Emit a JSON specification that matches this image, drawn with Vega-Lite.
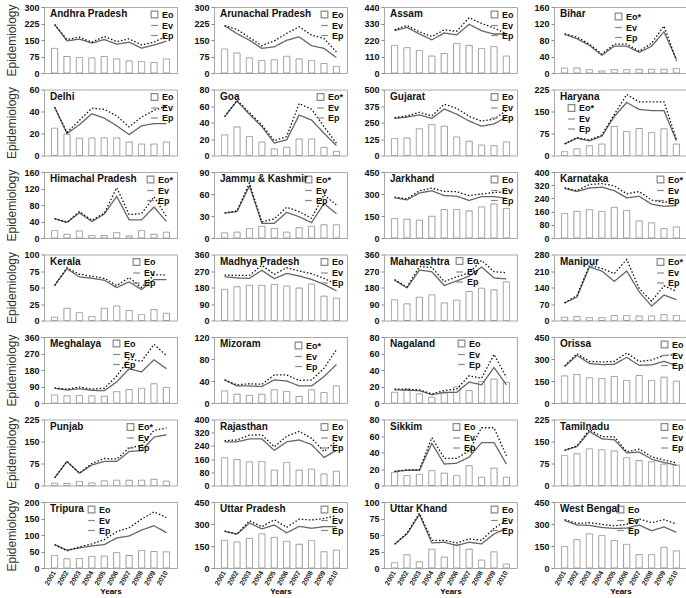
{"$schema":"https://vega.github.io/schema/vega-lite/v6.json",
"padding":{"left":4,"top":2,"right":2,"bottom":2},
"columns":4,"spacing":{"row":16.5,"column":37},"bounds":"flush",
"datasets":{
"Andhra Pradesh":[{"yr":2001,"Eo":112,"Ev":221,"Ep":220},{"yr":2002,"Eo":75,"Ev":146,"Ep":152},{"yr":2003,"Eo":70,"Ev":154,"Ep":163},{"yr":2004,"Eo":69,"Ev":136,"Ep":140},{"yr":2005,"Eo":75,"Ev":152,"Ep":166},{"yr":2006,"Eo":64,"Ev":131,"Ep":143},{"yr":2007,"Eo":55,"Ev":140,"Ep":155},{"yr":2008,"Eo":52,"Ev":113,"Ep":128},{"yr":2009,"Eo":48,"Ev":127,"Ep":140},{"yr":2010,"Eo":64,"Ev":145,"Ep":168}],
"Arunachal Pradesh":[{"yr":2001,"Eo":109,"Ev":215,"Ep":215},{"yr":2002,"Eo":91,"Ev":179,"Ep":198},{"yr":2003,"Eo":69,"Ev":149,"Ep":161},{"yr":2004,"Eo":57,"Ev":112,"Ep":124},{"yr":2005,"Eo":60,"Ev":119,"Ep":146},{"yr":2006,"Eo":76,"Ev":149,"Ep":180},{"yr":2007,"Eo":64,"Ev":164,"Ep":210},{"yr":2008,"Eo":57,"Ev":124,"Ep":172},{"yr":2009,"Eo":43,"Ev":112,"Ep":157},{"yr":2010,"Eo":30,"Ev":70,"Ep":95}],
"Assam":[{"yr":2001,"Eo":184,"Ev":282,"Ep":288},{"yr":2002,"Eo":169,"Ev":304,"Ep":317},{"yr":2003,"Eo":150,"Ev":260,"Ep":275},{"yr":2004,"Eo":113,"Ev":221,"Ep":243},{"yr":2005,"Eo":130,"Ev":267,"Ep":288},{"yr":2006,"Eo":197,"Ev":254,"Ep":278},{"yr":2007,"Eo":184,"Ev":325,"Ep":369},{"yr":2008,"Eo":163,"Ev":282,"Ep":330},{"yr":2009,"Eo":176,"Ev":260,"Ep":300},{"yr":2010,"Eo":113,"Ev":260,"Ep":262}],
"Bihar":[{"yr":2001,"Eo":12,"Ev":94,"Ep":95},{"yr":2002,"Eo":12,"Ev":83,"Ep":87},{"yr":2003,"Eo":8,"Ev":67,"Ep":70},{"yr":2004,"Eo":5,"Ev":43,"Ep":46},{"yr":2005,"Eo":8,"Ev":65,"Ep":70},{"yr":2006,"Eo":8,"Ev":65,"Ep":70},{"yr":2007,"Eo":9,"Ev":50,"Ep":53},{"yr":2008,"Eo":9,"Ev":65,"Ep":72},{"yr":2009,"Eo":9,"Ev":100,"Ep":114},{"yr":2010,"Eo":11,"Ev":33,"Ep":30}],
"Delhi":[{"yr":2001,"Eo":24.8,"Ev":44,"Ep":44},{"yr":2002,"Eo":19.4,"Ev":20,"Ep":21},{"yr":2003,"Eo":15.8,"Ev":28,"Ep":32},{"yr":2004,"Eo":16,"Ev":38,"Ep":43},{"yr":2005,"Eo":16,"Ev":34,"Ep":42},{"yr":2006,"Eo":16,"Ev":27,"Ep":36},{"yr":2007,"Eo":12.2,"Ev":19,"Ep":26},{"yr":2008,"Eo":10.4,"Ev":27,"Ep":35},{"yr":2009,"Eo":10.4,"Ev":29,"Ep":41},{"yr":2010,"Eo":12.2,"Ev":29,"Ep":45}],
"Goa":[{"yr":2001,"Eo":25,"Ev":47,"Ep":47},{"yr":2002,"Eo":34.6,"Ev":66,"Ep":67},{"yr":2003,"Eo":23,"Ev":50,"Ep":52},{"yr":2004,"Eo":16.3,"Ev":35,"Ep":37},{"yr":2005,"Eo":8,"Ev":15,"Ep":18},{"yr":2006,"Eo":10,"Ev":19,"Ep":23},{"yr":2007,"Eo":20,"Ev":49,"Ep":63},{"yr":2008,"Eo":20,"Ev":43,"Ep":56},{"yr":2009,"Eo":10,"Ev":27,"Ep":35},{"yr":2010,"Eo":5,"Ev":12,"Ep":15}],
"Gujarat":[{"yr":2001,"Eo":128,"Ev":281,"Ep":286},{"yr":2002,"Eo":133,"Ev":291,"Ep":300},{"yr":2003,"Eo":202,"Ev":308,"Ep":327},{"yr":2004,"Eo":234,"Ev":281,"Ep":300},{"yr":2005,"Eo":222,"Ev":352,"Ep":389},{"yr":2006,"Eo":140,"Ev":313,"Ep":357},{"yr":2007,"Eo":108,"Ev":261,"Ep":296},{"yr":2008,"Eo":79,"Ev":222,"Ep":261},{"yr":2009,"Eo":74,"Ev":239,"Ep":276},{"yr":2010,"Eo":103,"Ev":291,"Ep":340}],
"Haryana":[{"yr":2001,"Eo":13,"Ev":39,"Ep":40},{"yr":2002,"Eo":23,"Ev":59,"Ep":61},{"yr":2003,"Eo":33,"Ev":50,"Ep":53},{"yr":2004,"Eo":39,"Ev":66,"Ep":70},{"yr":2005,"Eo":99,"Ev":133,"Ep":140},{"yr":2006,"Eo":82,"Ev":181,"Ep":208},{"yr":2007,"Eo":92,"Ev":157,"Ep":183},{"yr":2008,"Eo":78,"Ev":153,"Ep":183},{"yr":2009,"Eo":91,"Ev":153,"Ep":183},{"yr":2010,"Eo":39,"Ev":50,"Ep":55}],
"Himachal Pradesh":[{"yr":2001,"Eo":18,"Ev":47,"Ep":47},{"yr":2002,"Eo":9,"Ev":38,"Ep":38},{"yr":2003,"Eo":17,"Ev":61,"Ep":64},{"yr":2004,"Eo":6,"Ev":40,"Ep":43},{"yr":2005,"Eo":6,"Ev":58,"Ep":60},{"yr":2006,"Eo":13,"Ev":101,"Ep":122},{"yr":2007,"Eo":5,"Ev":44,"Ep":57},{"yr":2008,"Eo":18,"Ev":44,"Ep":59},{"yr":2009,"Eo":9,"Ev":75,"Ep":100},{"yr":2010,"Eo":14,"Ev":40,"Ep":52}],
"Jammu & Kashmir":[{"yr":2001,"Eo":7,"Ev":34,"Ep":34},{"yr":2002,"Eo":8,"Ev":36,"Ep":37},{"yr":2003,"Eo":13,"Ev":71,"Ep":75},{"yr":2004,"Eo":16,"Ev":20,"Ep":22},{"yr":2005,"Eo":13,"Ev":20,"Ep":26},{"yr":2006,"Eo":8,"Ev":35,"Ep":42},{"yr":2007,"Eo":14,"Ev":29,"Ep":36},{"yr":2008,"Eo":16,"Ev":21,"Ep":27},{"yr":2009,"Eo":18,"Ev":47,"Ep":59},{"yr":2010,"Eo":18,"Ev":33,"Ep":45}],
"Jarkhand":[{"yr":2001,"Eo":132,"Ev":274,"Ep":278},{"yr":2002,"Eo":128,"Ev":260,"Ep":267},{"yr":2003,"Eo":121,"Ev":307,"Ep":322},{"yr":2004,"Eo":148,"Ev":322,"Ep":340},{"yr":2005,"Eo":194,"Ev":289,"Ep":318},{"yr":2006,"Eo":194,"Ev":285,"Ep":316},{"yr":2007,"Eo":185,"Ev":256,"Ep":289},{"yr":2008,"Eo":212,"Ev":282,"Ep":300},{"yr":2009,"Eo":232,"Ev":282,"Ep":310},{"yr":2010,"Eo":201,"Ev":271,"Ep":315}],
"Karnataka":[{"yr":2001,"Eo":148,"Ev":301,"Ep":305},{"yr":2002,"Eo":161,"Ev":282,"Ep":287},{"yr":2003,"Eo":172,"Ev":303,"Ep":324},{"yr":2004,"Eo":161,"Ev":308,"Ep":330},{"yr":2005,"Eo":186,"Ev":287,"Ep":316},{"yr":2006,"Eo":167,"Ev":243,"Ep":268},{"yr":2007,"Eo":103,"Ev":253,"Ep":282},{"yr":2008,"Eo":92,"Ev":205,"Ep":230},{"yr":2009,"Eo":57,"Ev":192,"Ep":216},{"yr":2010,"Eo":67,"Ev":197,"Ep":230}],
"Kerala":[{"yr":2001,"Eo":5,"Ev":53,"Ep":53},{"yr":2002,"Eo":18.5,"Ev":78.5,"Ep":80},{"yr":2003,"Eo":12,"Ev":66,"Ep":70},{"yr":2004,"Eo":6,"Ev":64,"Ep":67},{"yr":2005,"Eo":18.5,"Ev":61,"Ep":64},{"yr":2006,"Eo":22,"Ev":50,"Ep":53},{"yr":2007,"Eo":15,"Ev":58.5,"Ep":65},{"yr":2008,"Eo":9,"Ev":47,"Ep":50},{"yr":2009,"Eo":16.5,"Ev":62,"Ep":69},{"yr":2010,"Eo":11,"Ev":62,"Ep":69}],
"Madhya Pradesh":[{"yr":2001,"Eo":170,"Ev":239,"Ep":248},{"yr":2002,"Eo":184,"Ev":232,"Ep":246},{"yr":2003,"Eo":192,"Ev":230,"Ep":246},{"yr":2004,"Eo":192,"Ev":274,"Ep":301},{"yr":2005,"Eo":197,"Ev":228,"Ep":252},{"yr":2006,"Eo":188,"Ev":257,"Ep":288},{"yr":2007,"Eo":177,"Ev":243,"Ep":270},{"yr":2008,"Eo":199,"Ev":224,"Ep":255},{"yr":2009,"Eo":133,"Ev":197,"Ep":230},{"yr":2010,"Eo":122,"Ev":162,"Ep":197}],
"Maharashtra":[{"yr":2001,"Eo":113,"Ev":220,"Ep":223},{"yr":2002,"Eo":91,"Ev":178,"Ep":183},{"yr":2003,"Eo":127,"Ev":275,"Ep":294},{"yr":2004,"Eo":140,"Ev":266,"Ep":290},{"yr":2005,"Eo":96,"Ev":191,"Ep":212},{"yr":2006,"Eo":111,"Ev":216,"Ep":238},{"yr":2007,"Eo":158,"Ev":242,"Ep":260},{"yr":2008,"Eo":176,"Ev":292,"Ep":328},{"yr":2009,"Eo":167,"Ev":232,"Ep":266},{"yr":2010,"Eo":211,"Ev":227,"Ep":261}],
"Manipur":[{"yr":2001,"Eo":14,"Ev":74,"Ep":75},{"yr":2002,"Eo":17,"Ev":100,"Ep":106},{"yr":2003,"Eo":12,"Ev":227,"Ep":234},{"yr":2004,"Eo":12,"Ev":210,"Ep":221},{"yr":2005,"Eo":21,"Ev":166,"Ep":199},{"yr":2006,"Eo":21,"Ev":210,"Ep":259},{"yr":2007,"Eo":19,"Ev":122,"Ep":136},{"yr":2008,"Eo":19,"Ev":61,"Ep":82},{"yr":2009,"Eo":25,"Ev":108,"Ep":147},{"yr":2010,"Eo":21,"Ev":88,"Ep":124}],
"Meghalaya":[{"yr":2001,"Eo":44,"Ev":80,"Ep":82},{"yr":2002,"Eo":39,"Ev":71,"Ep":76},{"yr":2003,"Eo":41,"Ev":78,"Ep":87},{"yr":2004,"Eo":39,"Ev":69,"Ep":76},{"yr":2005,"Eo":37,"Ev":67,"Ep":80},{"yr":2006,"Eo":62,"Ev":115,"Ep":147},{"yr":2007,"Eo":73,"Ev":187,"Ep":240},{"yr":2008,"Eo":80,"Ev":170,"Ep":227},{"yr":2009,"Eo":105,"Ev":236,"Ep":320},{"yr":2010,"Eo":85,"Ev":187,"Ep":259}],
"Mizoram":[{"yr":2001,"Eo":22,"Ev":42,"Ep":42},{"yr":2002,"Eo":16,"Ev":31,"Ep":33},{"yr":2003,"Eo":14,"Ev":31,"Ep":35},{"yr":2004,"Eo":16,"Ev":30,"Ep":34},{"yr":2005,"Eo":24,"Ev":42,"Ep":51},{"yr":2006,"Eo":21,"Ev":40,"Ep":51},{"yr":2007,"Eo":12,"Ev":31,"Ep":41},{"yr":2008,"Eo":24,"Ev":31,"Ep":42},{"yr":2009,"Eo":19,"Ev":48,"Ep":63},{"yr":2010,"Eo":31,"Ev":70,"Ep":97}],
"Nagaland":[{"yr":2001,"Eo":13,"Ev":16,"Ep":17},{"yr":2002,"Eo":17,"Ev":15.5,"Ep":16.5},{"yr":2003,"Eo":11,"Ev":15,"Ep":16},{"yr":2004,"Eo":7,"Ev":10,"Ep":11},{"yr":2005,"Eo":12,"Ev":13,"Ep":15},{"yr":2006,"Eo":19.5,"Ev":13,"Ep":17},{"yr":2007,"Eo":15,"Ev":25.5,"Ep":33},{"yr":2008,"Eo":26,"Ev":22,"Ep":30},{"yr":2009,"Eo":29,"Ev":43,"Ep":59},{"yr":2010,"Eo":25,"Ev":22,"Ep":31}],
"Orissa":[{"yr":2001,"Eo":185,"Ev":248,"Ep":253},{"yr":2002,"Eo":194,"Ev":325,"Ep":336},{"yr":2003,"Eo":172,"Ev":269,"Ep":284},{"yr":2004,"Eo":167,"Ev":262,"Ep":280},{"yr":2005,"Eo":181,"Ev":264,"Ep":284},{"yr":2006,"Eo":154,"Ev":311,"Ep":341},{"yr":2007,"Eo":187,"Ev":257,"Ep":284},{"yr":2008,"Eo":154,"Ev":260,"Ep":293},{"yr":2009,"Eo":176,"Ev":284,"Ep":325},{"yr":2010,"Eo":149,"Ev":255,"Ep":329}],
"Punjab":[{"yr":2001,"Eo":8,"Ev":26,"Ep":26},{"yr":2002,"Eo":7,"Ev":82,"Ep":82},{"yr":2003,"Eo":14,"Ev":42,"Ep":42},{"yr":2004,"Eo":9,"Ev":70,"Ep":75},{"yr":2005,"Eo":16,"Ev":82,"Ep":92},{"yr":2006,"Eo":18,"Ev":82,"Ep":90},{"yr":2007,"Eo":18,"Ev":116,"Ep":128},{"yr":2008,"Eo":18,"Ev":119,"Ep":137},{"yr":2009,"Eo":21,"Ev":165,"Ep":188},{"yr":2010,"Eo":15,"Ev":173,"Ep":196}],
"Rajasthan":[{"yr":2001,"Eo":168,"Ev":265,"Ep":272},{"yr":2002,"Eo":158,"Ev":265,"Ep":276},{"yr":2003,"Eo":143,"Ev":282,"Ep":305},{"yr":2004,"Eo":145,"Ev":282,"Ep":307},{"yr":2005,"Eo":93,"Ev":213,"Ep":234},{"yr":2006,"Eo":139,"Ev":265,"Ep":299},{"yr":2007,"Eo":93,"Ev":276,"Ep":328},{"yr":2008,"Eo":99,"Ev":248,"Ep":286},{"yr":2009,"Eo":70,"Ev":170,"Ep":206},{"yr":2010,"Eo":86,"Ev":213,"Ep":270}],
"Sikkim":[{"yr":2001,"Eo":16,"Ev":17,"Ep":17},{"yr":2002,"Eo":12,"Ev":18.5,"Ep":19},{"yr":2003,"Eo":13.5,"Ev":18.5,"Ep":19},{"yr":2004,"Eo":18,"Ev":51,"Ep":58},{"yr":2005,"Eo":15,"Ev":26,"Ep":33},{"yr":2006,"Eo":12,"Ev":27,"Ep":33},{"yr":2007,"Eo":24,"Ev":34.5,"Ep":42},{"yr":2008,"Eo":10,"Ev":52,"Ep":70},{"yr":2009,"Eo":21,"Ev":52,"Ep":70},{"yr":2010,"Eo":10,"Ev":26,"Ep":36}],
"Tamilnadu":[{"yr":2001,"Eo":102,"Ev":120,"Ep":120},{"yr":2002,"Eo":108,"Ev":133,"Ep":135},{"yr":2003,"Eo":125,"Ev":184,"Ep":190},{"yr":2004,"Eo":122,"Ev":159,"Ep":167},{"yr":2005,"Eo":118,"Ev":156,"Ep":166},{"yr":2006,"Eo":95,"Ev":111,"Ep":115},{"yr":2007,"Eo":85,"Ev":114,"Ep":124},{"yr":2008,"Eo":81,"Ev":90,"Ep":98},{"yr":2009,"Eo":73,"Ev":79,"Ep":87},{"yr":2010,"Eo":70,"Ev":69,"Ep":77}],
"Tripura":[{"yr":2001,"Eo":38,"Ev":71,"Ep":71},{"yr":2002,"Eo":28,"Ev":54,"Ep":52},{"yr":2003,"Eo":29,"Ev":61,"Ep":64},{"yr":2004,"Eo":35,"Ev":67,"Ep":73},{"yr":2005,"Eo":36,"Ev":71,"Ep":86},{"yr":2006,"Eo":47,"Ev":91,"Ep":110},{"yr":2007,"Eo":38,"Ev":97,"Ep":122},{"yr":2008,"Eo":53,"Ev":115,"Ep":148},{"yr":2009,"Eo":50,"Ev":128,"Ep":170},{"yr":2010,"Eo":49,"Ev":107,"Ep":153}],
"Uttar Pradesh":[{"yr":2001,"Eo":189,"Ev":249,"Ep":253},{"yr":2002,"Eo":178,"Ev":231,"Ep":231},{"yr":2003,"Eo":202,"Ev":307,"Ep":322},{"yr":2004,"Eo":233,"Ev":267,"Ep":282},{"yr":2005,"Eo":209,"Ev":293,"Ep":329},{"yr":2006,"Eo":182,"Ev":240,"Ep":278},{"yr":2007,"Eo":162,"Ev":284,"Ep":333},{"yr":2008,"Eo":187,"Ev":271,"Ep":327},{"yr":2009,"Eo":111,"Ev":282,"Ep":338},{"yr":2010,"Eo":122,"Ev":282,"Ep":356}],
"Uttar Khand":[{"yr":2001,"Eo":8,"Ev":36,"Ep":36},{"yr":2002,"Eo":20,"Ev":51.5,"Ep":53},{"yr":2003,"Eo":9.5,"Ev":81,"Ep":83},{"yr":2004,"Eo":28.5,"Ev":38,"Ep":42},{"yr":2005,"Eo":16.5,"Ev":39,"Ep":42},{"yr":2006,"Eo":35.5,"Ev":34,"Ep":38},{"yr":2007,"Eo":28.5,"Ev":39,"Ep":44},{"yr":2008,"Eo":12,"Ev":36.5,"Ep":42},{"yr":2009,"Eo":24.5,"Ev":51.5,"Ep":60},{"yr":2010,"Eo":6,"Ev":60,"Ep":72}],
"West Bengal":[{"yr":2001,"Eo":146,"Ev":324,"Ep":330},{"yr":2002,"Eo":193,"Ev":293,"Ep":304},{"yr":2003,"Eo":233,"Ev":291,"Ep":309},{"yr":2004,"Eo":222,"Ev":276,"Ep":298},{"yr":2005,"Eo":187,"Ev":270,"Ep":287},{"yr":2006,"Eo":161,"Ev":272,"Ep":298},{"yr":2007,"Eo":91,"Ev":293,"Ep":335},{"yr":2008,"Eo":91,"Ev":254,"Ep":309},{"yr":2009,"Eo":141,"Ev":280,"Ep":330},{"yr":2010,"Eo":117,"Ev":243,"Ep":300}]
},
"concat":[
{"data":{"name":"Andhra Pradesh"},"title":"Andhra Pradesh","transform":[{"fold":["Eo","Ev","Ep"],"as":["k","v"]}],"encoding":{"x":{"field":"yr","type":"ordinal","axis":null},"y":{"field":"v","type":"quantitative","scale":{"domain":[0,300],"nice":false},"axis":{"values":[0,75,150,225,300],"title":"Epidemiology"}},"stroke":{"field":"k","type":"nominal","scale":{"domain":["Eo","Ev","Ep"],"range":["#999999","#666666","#111111"]},"legend":null},"strokeDash":{"field":"k","type":"nominal","scale":{"domain":["Eo","Ev","Ep"],"range":[[1,0],[1,0],[1.5,2]]},"legend":null}},"layer":[{"transform":[{"filter":"datum.k=='Eo'"}],"mark":"bar"},{"transform":[{"filter":"datum.k!='Eo'"}],"mark":"line"},{"transform":[{"filter":"datum.k=='none'"}],"mark":{"type":"point","opacity":1},"encoding":{"shape":{"field":"k","type":"nominal","scale":{"domain":["Eo","Ev","Ep"],"range":["square","stroke","stroke"]},"legend":{"title":null,"encode":{"symbols":{"update":{"stroke":{"signal":"datum.value=='Eo'?'#999999':datum.value=='Ev'?'#666666':'#111111'"},"strokeDash":{"signal":"datum.value=='Ep'?[1.5,2]:[1,0]"},"fill":{"value":"#ffffff"},"opacity":{"value":1}}}}}}}}]},
{"data":{"name":"Arunachal Pradesh"},"title":"Arunachal Pradesh","transform":[{"fold":["Eo","Ev","Ep"],"as":["k","v"]}],"encoding":{"x":{"field":"yr","type":"ordinal","axis":null},"y":{"field":"v","type":"quantitative","scale":{"domain":[0,300],"nice":false},"axis":{"values":[0,75,150,225,300],"title":null}},"stroke":{"field":"k","type":"nominal","scale":{"domain":["Eo","Ev","Ep"],"range":["#999999","#666666","#111111"]},"legend":null},"strokeDash":{"field":"k","type":"nominal","scale":{"domain":["Eo","Ev","Ep"],"range":[[1,0],[1,0],[1.5,2]]},"legend":null}},"layer":[{"transform":[{"filter":"datum.k=='Eo'"}],"mark":"bar"},{"transform":[{"filter":"datum.k!='Eo'"}],"mark":"line"},{"transform":[{"filter":"datum.k=='none'"}],"mark":{"type":"point","opacity":1},"encoding":{"shape":{"field":"k","type":"nominal","scale":{"domain":["Eo","Ev","Ep"],"range":["square","stroke","stroke"]},"legend":{"title":null,"encode":{"symbols":{"update":{"stroke":{"signal":"datum.value=='Eo'?'#999999':datum.value=='Ev'?'#666666':'#111111'"},"strokeDash":{"signal":"datum.value=='Ep'?[1.5,2]:[1,0]"},"fill":{"value":"#ffffff"},"opacity":{"value":1}}}}}}}}]},
{"data":{"name":"Assam"},"title":"Assam","transform":[{"fold":["Eo","Ev","Ep"],"as":["k","v"]}],"encoding":{"x":{"field":"yr","type":"ordinal","axis":null},"y":{"field":"v","type":"quantitative","scale":{"domain":[0,440],"nice":false},"axis":{"values":[0,110,220,330,440],"title":null}},"stroke":{"field":"k","type":"nominal","scale":{"domain":["Eo","Ev","Ep"],"range":["#999999","#666666","#111111"]},"legend":null},"strokeDash":{"field":"k","type":"nominal","scale":{"domain":["Eo","Ev","Ep"],"range":[[1,0],[1,0],[1.5,2]]},"legend":null}},"layer":[{"transform":[{"filter":"datum.k=='Eo'"}],"mark":"bar"},{"transform":[{"filter":"datum.k!='Eo'"}],"mark":"line"},{"transform":[{"filter":"datum.k=='none'"}],"mark":{"type":"point","opacity":1},"encoding":{"shape":{"field":"k","type":"nominal","scale":{"domain":["Eo","Ev","Ep"],"range":["square","stroke","stroke"]},"legend":{"title":null,"encode":{"symbols":{"update":{"stroke":{"signal":"datum.value=='Eo'?'#999999':datum.value=='Ev'?'#666666':'#111111'"},"strokeDash":{"signal":"datum.value=='Ep'?[1.5,2]:[1,0]"},"fill":{"value":"#ffffff"},"opacity":{"value":1}}}}}}}}]},
{"data":{"name":"Bihar"},"title":"Bihar","transform":[{"fold":["Eo","Ev","Ep"],"as":["k","v"]}],"encoding":{"x":{"field":"yr","type":"ordinal","axis":null},"y":{"field":"v","type":"quantitative","scale":{"domain":[0,160],"nice":false},"axis":{"values":[0,40,80,120,160],"title":null}},"stroke":{"field":"k","type":"nominal","scale":{"domain":["Eo","Ev","Ep"],"range":["#999999","#666666","#111111"]},"legend":null},"strokeDash":{"field":"k","type":"nominal","scale":{"domain":["Eo","Ev","Ep"],"range":[[1,0],[1,0],[1.5,2]]},"legend":null}},"layer":[{"transform":[{"filter":"datum.k=='Eo'"}],"mark":"bar"},{"transform":[{"filter":"datum.k!='Eo'"}],"mark":"line"},{"transform":[{"filter":"datum.k=='none'"}],"mark":{"type":"point","opacity":1},"encoding":{"shape":{"field":"k","type":"nominal","scale":{"domain":["Eo","Ev","Ep"],"range":["square","stroke","stroke"]},"legend":{"title":null,"orient":"none","legendX":60,"legendY":5,"labelExpr":"datum.label=='Eo'?'Eo*':datum.label","encode":{"symbols":{"update":{"stroke":{"signal":"datum.value=='Eo'?'#999999':datum.value=='Ev'?'#666666':'#111111'"},"strokeDash":{"signal":"datum.value=='Ep'?[1.5,2]:[1,0]"},"fill":{"value":"#ffffff"},"opacity":{"value":1}}}}}}}}]},
{"data":{"name":"Delhi"},"title":"Delhi","transform":[{"fold":["Eo","Ev","Ep"],"as":["k","v"]}],"encoding":{"x":{"field":"yr","type":"ordinal","axis":null},"y":{"field":"v","type":"quantitative","scale":{"domain":[0,60],"nice":false},"axis":{"values":[0,20,40,60],"title":"Epidemiology"}},"stroke":{"field":"k","type":"nominal","scale":{"domain":["Eo","Ev","Ep"],"range":["#999999","#666666","#111111"]},"legend":null},"strokeDash":{"field":"k","type":"nominal","scale":{"domain":["Eo","Ev","Ep"],"range":[[1,0],[1,0],[1.5,2]]},"legend":null}},"layer":[{"transform":[{"filter":"datum.k=='Eo'"}],"mark":"bar"},{"transform":[{"filter":"datum.k!='Eo'"}],"mark":"line"},{"transform":[{"filter":"datum.k=='none'"}],"mark":{"type":"point","opacity":1},"encoding":{"shape":{"field":"k","type":"nominal","scale":{"domain":["Eo","Ev","Ep"],"range":["square","stroke","stroke"]},"legend":{"title":null,"encode":{"symbols":{"update":{"stroke":{"signal":"datum.value=='Eo'?'#999999':datum.value=='Ev'?'#666666':'#111111'"},"strokeDash":{"signal":"datum.value=='Ep'?[1.5,2]:[1,0]"},"fill":{"value":"#ffffff"},"opacity":{"value":1}}}}}}}}]},
{"data":{"name":"Goa"},"title":"Goa","transform":[{"fold":["Eo","Ev","Ep"],"as":["k","v"]}],"encoding":{"x":{"field":"yr","type":"ordinal","axis":null},"y":{"field":"v","type":"quantitative","scale":{"domain":[0,80],"nice":false},"axis":{"values":[0,20,40,60,80],"title":null}},"stroke":{"field":"k","type":"nominal","scale":{"domain":["Eo","Ev","Ep"],"range":["#999999","#666666","#111111"]},"legend":null},"strokeDash":{"field":"k","type":"nominal","scale":{"domain":["Eo","Ev","Ep"],"range":[[1,0],[1,0],[1.5,2]]},"legend":null}},"layer":[{"transform":[{"filter":"datum.k=='Eo'"}],"mark":"bar"},{"transform":[{"filter":"datum.k!='Eo'"}],"mark":"line"},{"transform":[{"filter":"datum.k=='none'"}],"mark":{"type":"point","opacity":1},"encoding":{"shape":{"field":"k","type":"nominal","scale":{"domain":["Eo","Ev","Ep"],"range":["square","stroke","stroke"]},"legend":{"title":null,"labelExpr":"datum.label=='Eo'?'Eo*':datum.label","encode":{"symbols":{"update":{"stroke":{"signal":"datum.value=='Eo'?'#999999':datum.value=='Ev'?'#666666':'#111111'"},"strokeDash":{"signal":"datum.value=='Ep'?[1.5,2]:[1,0]"},"fill":{"value":"#ffffff"},"opacity":{"value":1}}}}}}}}]},
{"data":{"name":"Gujarat"},"title":"Gujarat","transform":[{"fold":["Eo","Ev","Ep"],"as":["k","v"]}],"encoding":{"x":{"field":"yr","type":"ordinal","axis":null},"y":{"field":"v","type":"quantitative","scale":{"domain":[0,500],"nice":false},"axis":{"values":[0,125,250,375,500],"title":null}},"stroke":{"field":"k","type":"nominal","scale":{"domain":["Eo","Ev","Ep"],"range":["#999999","#666666","#111111"]},"legend":null},"strokeDash":{"field":"k","type":"nominal","scale":{"domain":["Eo","Ev","Ep"],"range":[[1,0],[1,0],[1.5,2]]},"legend":null}},"layer":[{"transform":[{"filter":"datum.k=='Eo'"}],"mark":"bar"},{"transform":[{"filter":"datum.k!='Eo'"}],"mark":"line"},{"transform":[{"filter":"datum.k=='none'"}],"mark":{"type":"point","opacity":1},"encoding":{"shape":{"field":"k","type":"nominal","scale":{"domain":["Eo","Ev","Ep"],"range":["square","stroke","stroke"]},"legend":{"title":null,"encode":{"symbols":{"update":{"stroke":{"signal":"datum.value=='Eo'?'#999999':datum.value=='Ev'?'#666666':'#111111'"},"strokeDash":{"signal":"datum.value=='Ep'?[1.5,2]:[1,0]"},"fill":{"value":"#ffffff"},"opacity":{"value":1}}}}}}}}]},
{"data":{"name":"Haryana"},"title":"Haryana","transform":[{"fold":["Eo","Ev","Ep"],"as":["k","v"]}],"encoding":{"x":{"field":"yr","type":"ordinal","axis":null},"y":{"field":"v","type":"quantitative","scale":{"domain":[0,225],"nice":false},"axis":{"values":[0,75,150,225],"title":null}},"stroke":{"field":"k","type":"nominal","scale":{"domain":["Eo","Ev","Ep"],"range":["#999999","#666666","#111111"]},"legend":null},"strokeDash":{"field":"k","type":"nominal","scale":{"domain":["Eo","Ev","Ep"],"range":[[1,0],[1,0],[1.5,2]]},"legend":null}},"layer":[{"transform":[{"filter":"datum.k=='Eo'"}],"mark":"bar"},{"transform":[{"filter":"datum.k!='Eo'"}],"mark":"line"},{"transform":[{"filter":"datum.k=='none'"}],"mark":{"type":"point","opacity":1},"encoding":{"shape":{"field":"k","type":"nominal","scale":{"domain":["Eo","Ev","Ep"],"range":["square","stroke","stroke"]},"legend":{"title":null,"orient":"none","legendX":13,"legendY":14,"labelExpr":"datum.label=='Eo'?'Eo*':datum.label","encode":{"symbols":{"update":{"stroke":{"signal":"datum.value=='Eo'?'#999999':datum.value=='Ev'?'#666666':'#111111'"},"strokeDash":{"signal":"datum.value=='Ep'?[1.5,2]:[1,0]"},"fill":{"value":"#ffffff"},"opacity":{"value":1}}}}}}}}]},
{"data":{"name":"Himachal Pradesh"},"title":"Himachal Pradesh","transform":[{"fold":["Eo","Ev","Ep"],"as":["k","v"]}],"encoding":{"x":{"field":"yr","type":"ordinal","axis":null},"y":{"field":"v","type":"quantitative","scale":{"domain":[0,160],"nice":false},"axis":{"values":[0,40,80,120,160],"title":"Epidemiology"}},"stroke":{"field":"k","type":"nominal","scale":{"domain":["Eo","Ev","Ep"],"range":["#999999","#666666","#111111"]},"legend":null},"strokeDash":{"field":"k","type":"nominal","scale":{"domain":["Eo","Ev","Ep"],"range":[[1,0],[1,0],[1.5,2]]},"legend":null}},"layer":[{"transform":[{"filter":"datum.k=='Eo'"}],"mark":"bar"},{"transform":[{"filter":"datum.k!='Eo'"}],"mark":"line"},{"transform":[{"filter":"datum.k=='none'"}],"mark":{"type":"point","opacity":1},"encoding":{"shape":{"field":"k","type":"nominal","scale":{"domain":["Eo","Ev","Ep"],"range":["square","stroke","stroke"]},"legend":{"title":null,"labelExpr":"datum.label=='Eo'?'Eo*':datum.label","encode":{"symbols":{"update":{"stroke":{"signal":"datum.value=='Eo'?'#999999':datum.value=='Ev'?'#666666':'#111111'"},"strokeDash":{"signal":"datum.value=='Ep'?[1.5,2]:[1,0]"},"fill":{"value":"#ffffff"},"opacity":{"value":1}}}}}}}}]},
{"data":{"name":"Jammu & Kashmir"},"title":"Jammu & Kashmir","transform":[{"fold":["Eo","Ev","Ep"],"as":["k","v"]}],"encoding":{"x":{"field":"yr","type":"ordinal","axis":null},"y":{"field":"v","type":"quantitative","scale":{"domain":[0,90],"nice":false},"axis":{"values":[0,30,60,90],"title":null}},"stroke":{"field":"k","type":"nominal","scale":{"domain":["Eo","Ev","Ep"],"range":["#999999","#666666","#111111"]},"legend":null},"strokeDash":{"field":"k","type":"nominal","scale":{"domain":["Eo","Ev","Ep"],"range":[[1,0],[1,0],[1.5,2]]},"legend":null}},"layer":[{"transform":[{"filter":"datum.k=='Eo'"}],"mark":"bar"},{"transform":[{"filter":"datum.k!='Eo'"}],"mark":"line"},{"transform":[{"filter":"datum.k=='none'"}],"mark":{"type":"point","opacity":1},"encoding":{"shape":{"field":"k","type":"nominal","scale":{"domain":["Eo","Ev","Ep"],"range":["square","stroke","stroke"]},"legend":{"title":null,"orient":"none","legendX":90,"legendY":3,"labelExpr":"datum.label=='Eo'?'Eo*':datum.label","encode":{"symbols":{"update":{"stroke":{"signal":"datum.value=='Eo'?'#999999':datum.value=='Ev'?'#666666':'#111111'"},"strokeDash":{"signal":"datum.value=='Ep'?[1.5,2]:[1,0]"},"fill":{"value":"#ffffff"},"opacity":{"value":1}}}}}}}}]},
{"data":{"name":"Jarkhand"},"title":"Jarkhand","transform":[{"fold":["Eo","Ev","Ep"],"as":["k","v"]}],"encoding":{"x":{"field":"yr","type":"ordinal","axis":null},"y":{"field":"v","type":"quantitative","scale":{"domain":[0,450],"nice":false},"axis":{"values":[0,150,300,450],"title":null}},"stroke":{"field":"k","type":"nominal","scale":{"domain":["Eo","Ev","Ep"],"range":["#999999","#666666","#111111"]},"legend":null},"strokeDash":{"field":"k","type":"nominal","scale":{"domain":["Eo","Ev","Ep"],"range":[[1,0],[1,0],[1.5,2]]},"legend":null}},"layer":[{"transform":[{"filter":"datum.k=='Eo'"}],"mark":"bar"},{"transform":[{"filter":"datum.k!='Eo'"}],"mark":"line"},{"transform":[{"filter":"datum.k=='none'"}],"mark":{"type":"point","opacity":1},"encoding":{"shape":{"field":"k","type":"nominal","scale":{"domain":["Eo","Ev","Ep"],"range":["square","stroke","stroke"]},"legend":{"title":null,"encode":{"symbols":{"update":{"stroke":{"signal":"datum.value=='Eo'?'#999999':datum.value=='Ev'?'#666666':'#111111'"},"strokeDash":{"signal":"datum.value=='Ep'?[1.5,2]:[1,0]"},"fill":{"value":"#ffffff"},"opacity":{"value":1}}}}}}}}]},
{"data":{"name":"Karnataka"},"title":"Karnataka","transform":[{"fold":["Eo","Ev","Ep"],"as":["k","v"]}],"encoding":{"x":{"field":"yr","type":"ordinal","axis":null},"y":{"field":"v","type":"quantitative","scale":{"domain":[0,400],"nice":false},"axis":{"values":[0,80,160,240,320,400],"title":null}},"stroke":{"field":"k","type":"nominal","scale":{"domain":["Eo","Ev","Ep"],"range":["#999999","#666666","#111111"]},"legend":null},"strokeDash":{"field":"k","type":"nominal","scale":{"domain":["Eo","Ev","Ep"],"range":[[1,0],[1,0],[1.5,2]]},"legend":null}},"layer":[{"transform":[{"filter":"datum.k=='Eo'"}],"mark":"bar"},{"transform":[{"filter":"datum.k!='Eo'"}],"mark":"line"},{"transform":[{"filter":"datum.k=='none'"}],"mark":{"type":"point","opacity":1},"encoding":{"shape":{"field":"k","type":"nominal","scale":{"domain":["Eo","Ev","Ep"],"range":["square","stroke","stroke"]},"legend":{"title":null,"labelExpr":"datum.label=='Eo'?'Eo*':datum.label","encode":{"symbols":{"update":{"stroke":{"signal":"datum.value=='Eo'?'#999999':datum.value=='Ev'?'#666666':'#111111'"},"strokeDash":{"signal":"datum.value=='Ep'?[1.5,2]:[1,0]"},"fill":{"value":"#ffffff"},"opacity":{"value":1}}}}}}}}]},
{"data":{"name":"Kerala"},"title":"Kerala","transform":[{"fold":["Eo","Ev","Ep"],"as":["k","v"]}],"encoding":{"x":{"field":"yr","type":"ordinal","axis":null},"y":{"field":"v","type":"quantitative","scale":{"domain":[0,100],"nice":false},"axis":{"values":[0,25,50,75,100],"title":"Epidemiology"}},"stroke":{"field":"k","type":"nominal","scale":{"domain":["Eo","Ev","Ep"],"range":["#999999","#666666","#111111"]},"legend":null},"strokeDash":{"field":"k","type":"nominal","scale":{"domain":["Eo","Ev","Ep"],"range":[[1,0],[1,0],[1.5,2]]},"legend":null}},"layer":[{"transform":[{"filter":"datum.k=='Eo'"}],"mark":"bar"},{"transform":[{"filter":"datum.k!='Eo'"}],"mark":"line"},{"transform":[{"filter":"datum.k=='none'"}],"mark":{"type":"point","opacity":1},"encoding":{"shape":{"field":"k","type":"nominal","scale":{"domain":["Eo","Ev","Ep"],"range":["square","stroke","stroke"]},"legend":{"title":null,"orient":"none","legendX":88,"legendY":3,"encode":{"symbols":{"update":{"stroke":{"signal":"datum.value=='Eo'?'#999999':datum.value=='Ev'?'#666666':'#111111'"},"strokeDash":{"signal":"datum.value=='Ep'?[1.5,2]:[1,0]"},"fill":{"value":"#ffffff"},"opacity":{"value":1}}}}}}}}]},
{"data":{"name":"Madhya Pradesh"},"title":"Madhya Pradesh","transform":[{"fold":["Eo","Ev","Ep"],"as":["k","v"]}],"encoding":{"x":{"field":"yr","type":"ordinal","axis":null},"y":{"field":"v","type":"quantitative","scale":{"domain":[0,360],"nice":false},"axis":{"values":[0,90,180,270,360],"title":null}},"stroke":{"field":"k","type":"nominal","scale":{"domain":["Eo","Ev","Ep"],"range":["#999999","#666666","#111111"]},"legend":null},"strokeDash":{"field":"k","type":"nominal","scale":{"domain":["Eo","Ev","Ep"],"range":[[1,0],[1,0],[1.5,2]]},"legend":null}},"layer":[{"transform":[{"filter":"datum.k=='Eo'"}],"mark":"bar"},{"transform":[{"filter":"datum.k!='Eo'"}],"mark":"line"},{"transform":[{"filter":"datum.k=='none'"}],"mark":{"type":"point","opacity":1},"encoding":{"shape":{"field":"k","type":"nominal","scale":{"domain":["Eo","Ev","Ep"],"range":["square","stroke","stroke"]},"legend":{"title":null,"encode":{"symbols":{"update":{"stroke":{"signal":"datum.value=='Eo'?'#999999':datum.value=='Ev'?'#666666':'#111111'"},"strokeDash":{"signal":"datum.value=='Ep'?[1.5,2]:[1,0]"},"fill":{"value":"#ffffff"},"opacity":{"value":1}}}}}}}}]},
{"data":{"name":"Maharashtra"},"title":"Maharashtra","transform":[{"fold":["Eo","Ev","Ep"],"as":["k","v"]}],"encoding":{"x":{"field":"yr","type":"ordinal","axis":null},"y":{"field":"v","type":"quantitative","scale":{"domain":[0,360],"nice":false},"axis":{"values":[0,90,180,270,360],"title":null}},"stroke":{"field":"k","type":"nominal","scale":{"domain":["Eo","Ev","Ep"],"range":["#999999","#666666","#111111"]},"legend":null},"strokeDash":{"field":"k","type":"nominal","scale":{"domain":["Eo","Ev","Ep"],"range":[[1,0],[1,0],[1.5,2]]},"legend":null}},"layer":[{"transform":[{"filter":"datum.k=='Eo'"}],"mark":"bar"},{"transform":[{"filter":"datum.k!='Eo'"}],"mark":"line"},{"transform":[{"filter":"datum.k=='none'"}],"mark":{"type":"point","opacity":1},"encoding":{"shape":{"field":"k","type":"nominal","scale":{"domain":["Eo","Ev","Ep"],"range":["square","stroke","stroke"]},"legend":{"title":null,"orient":"none","legendX":71,"legendY":2,"encode":{"symbols":{"update":{"stroke":{"signal":"datum.value=='Eo'?'#999999':datum.value=='Ev'?'#666666':'#111111'"},"strokeDash":{"signal":"datum.value=='Ep'?[1.5,2]:[1,0]"},"fill":{"value":"#ffffff"},"opacity":{"value":1}}}}}}}}]},
{"data":{"name":"Manipur"},"title":"Manipur","transform":[{"fold":["Eo","Ev","Ep"],"as":["k","v"]}],"encoding":{"x":{"field":"yr","type":"ordinal","axis":null},"y":{"field":"v","type":"quantitative","scale":{"domain":[0,280],"nice":false},"axis":{"values":[0,70,140,210,280],"title":null}},"stroke":{"field":"k","type":"nominal","scale":{"domain":["Eo","Ev","Ep"],"range":["#999999","#666666","#111111"]},"legend":null},"strokeDash":{"field":"k","type":"nominal","scale":{"domain":["Eo","Ev","Ep"],"range":[[1,0],[1,0],[1.5,2]]},"legend":null}},"layer":[{"transform":[{"filter":"datum.k=='Eo'"}],"mark":"bar"},{"transform":[{"filter":"datum.k!='Eo'"}],"mark":"line"},{"transform":[{"filter":"datum.k=='none'"}],"mark":{"type":"point","opacity":1},"encoding":{"shape":{"field":"k","type":"nominal","scale":{"domain":["Eo","Ev","Ep"],"range":["square","stroke","stroke"]},"legend":{"title":null,"labelExpr":"datum.label=='Eo'?'Eo*':datum.label","encode":{"symbols":{"update":{"stroke":{"signal":"datum.value=='Eo'?'#999999':datum.value=='Ev'?'#666666':'#111111'"},"strokeDash":{"signal":"datum.value=='Ep'?[1.5,2]:[1,0]"},"fill":{"value":"#ffffff"},"opacity":{"value":1}}}}}}}}]},
{"data":{"name":"Meghalaya"},"title":"Meghalaya","transform":[{"fold":["Eo","Ev","Ep"],"as":["k","v"]}],"encoding":{"x":{"field":"yr","type":"ordinal","axis":null},"y":{"field":"v","type":"quantitative","scale":{"domain":[0,360],"nice":false},"axis":{"values":[0,90,180,270,360],"title":"Epidemiology"}},"stroke":{"field":"k","type":"nominal","scale":{"domain":["Eo","Ev","Ep"],"range":["#999999","#666666","#111111"]},"legend":null},"strokeDash":{"field":"k","type":"nominal","scale":{"domain":["Eo","Ev","Ep"],"range":[[1,0],[1,0],[1.5,2]]},"legend":null}},"layer":[{"transform":[{"filter":"datum.k=='Eo'"}],"mark":"bar"},{"transform":[{"filter":"datum.k!='Eo'"}],"mark":"line"},{"transform":[{"filter":"datum.k=='none'"}],"mark":{"type":"point","opacity":1},"encoding":{"shape":{"field":"k","type":"nominal","scale":{"domain":["Eo","Ev","Ep"],"range":["square","stroke","stroke"]},"legend":{"title":null,"orient":"none","legendX":68,"legendY":2,"encode":{"symbols":{"update":{"stroke":{"signal":"datum.value=='Eo'?'#999999':datum.value=='Ev'?'#666666':'#111111'"},"strokeDash":{"signal":"datum.value=='Ep'?[1.5,2]:[1,0]"},"fill":{"value":"#ffffff"},"opacity":{"value":1}}}}}}}}]},
{"data":{"name":"Mizoram"},"title":"Mizoram","transform":[{"fold":["Eo","Ev","Ep"],"as":["k","v"]}],"encoding":{"x":{"field":"yr","type":"ordinal","axis":null},"y":{"field":"v","type":"quantitative","scale":{"domain":[0,120],"nice":false},"axis":{"values":[0,40,80,120],"title":null}},"stroke":{"field":"k","type":"nominal","scale":{"domain":["Eo","Ev","Ep"],"range":["#999999","#666666","#111111"]},"legend":null},"strokeDash":{"field":"k","type":"nominal","scale":{"domain":["Eo","Ev","Ep"],"range":[[1,0],[1,0],[1.5,2]]},"legend":null}},"layer":[{"transform":[{"filter":"datum.k=='Eo'"}],"mark":"bar"},{"transform":[{"filter":"datum.k!='Eo'"}],"mark":"line"},{"transform":[{"filter":"datum.k=='none'"}],"mark":{"type":"point","opacity":1},"encoding":{"shape":{"field":"k","type":"nominal","scale":{"domain":["Eo","Ev","Ep"],"range":["square","stroke","stroke"]},"legend":{"title":null,"orient":"none","legendX":80,"legendY":4,"labelExpr":"datum.label=='Eo'?'Eo*':datum.label","encode":{"symbols":{"update":{"stroke":{"signal":"datum.value=='Eo'?'#999999':datum.value=='Ev'?'#666666':'#111111'"},"strokeDash":{"signal":"datum.value=='Ep'?[1.5,2]:[1,0]"},"fill":{"value":"#ffffff"},"opacity":{"value":1}}}}}}}}]},
{"data":{"name":"Nagaland"},"title":"Nagaland","transform":[{"fold":["Eo","Ev","Ep"],"as":["k","v"]}],"encoding":{"x":{"field":"yr","type":"ordinal","axis":null},"y":{"field":"v","type":"quantitative","scale":{"domain":[0,80],"nice":false},"axis":{"values":[0,20,40,60,80],"title":null}},"stroke":{"field":"k","type":"nominal","scale":{"domain":["Eo","Ev","Ep"],"range":["#999999","#666666","#111111"]},"legend":null},"strokeDash":{"field":"k","type":"nominal","scale":{"domain":["Eo","Ev","Ep"],"range":[[1,0],[1,0],[1.5,2]]},"legend":null}},"layer":[{"transform":[{"filter":"datum.k=='Eo'"}],"mark":"bar"},{"transform":[{"filter":"datum.k!='Eo'"}],"mark":"line"},{"transform":[{"filter":"datum.k=='none'"}],"mark":{"type":"point","opacity":1},"encoding":{"shape":{"field":"k","type":"nominal","scale":{"domain":["Eo","Ev","Ep"],"range":["square","stroke","stroke"]},"legend":{"title":null,"orient":"none","legendX":73,"legendY":2,"encode":{"symbols":{"update":{"stroke":{"signal":"datum.value=='Eo'?'#999999':datum.value=='Ev'?'#666666':'#111111'"},"strokeDash":{"signal":"datum.value=='Ep'?[1.5,2]:[1,0]"},"fill":{"value":"#ffffff"},"opacity":{"value":1}}}}}}}}]},
{"data":{"name":"Orissa"},"title":"Orissa","transform":[{"fold":["Eo","Ev","Ep"],"as":["k","v"]}],"encoding":{"x":{"field":"yr","type":"ordinal","axis":null},"y":{"field":"v","type":"quantitative","scale":{"domain":[0,450],"nice":false},"axis":{"values":[0,150,300,450],"title":null}},"stroke":{"field":"k","type":"nominal","scale":{"domain":["Eo","Ev","Ep"],"range":["#999999","#666666","#111111"]},"legend":null},"strokeDash":{"field":"k","type":"nominal","scale":{"domain":["Eo","Ev","Ep"],"range":[[1,0],[1,0],[1.5,2]]},"legend":null}},"layer":[{"transform":[{"filter":"datum.k=='Eo'"}],"mark":"bar"},{"transform":[{"filter":"datum.k!='Eo'"}],"mark":"line"},{"transform":[{"filter":"datum.k=='none'"}],"mark":{"type":"point","opacity":1},"encoding":{"shape":{"field":"k","type":"nominal","scale":{"domain":["Eo","Ev","Ep"],"range":["square","stroke","stroke"]},"legend":{"title":null,"encode":{"symbols":{"update":{"stroke":{"signal":"datum.value=='Eo'?'#999999':datum.value=='Ev'?'#666666':'#111111'"},"strokeDash":{"signal":"datum.value=='Ep'?[1.5,2]:[1,0]"},"fill":{"value":"#ffffff"},"opacity":{"value":1}}}}}}}}]},
{"data":{"name":"Punjab"},"title":"Punjab","transform":[{"fold":["Eo","Ev","Ep"],"as":["k","v"]}],"encoding":{"x":{"field":"yr","type":"ordinal","axis":null},"y":{"field":"v","type":"quantitative","scale":{"domain":[0,225],"nice":false},"axis":{"values":[0,75,150,225],"title":"Epidemiology"}},"stroke":{"field":"k","type":"nominal","scale":{"domain":["Eo","Ev","Ep"],"range":["#999999","#666666","#111111"]},"legend":null},"strokeDash":{"field":"k","type":"nominal","scale":{"domain":["Eo","Ev","Ep"],"range":[[1,0],[1,0],[1.5,2]]},"legend":null}},"layer":[{"transform":[{"filter":"datum.k=='Eo'"}],"mark":"bar"},{"transform":[{"filter":"datum.k!='Eo'"}],"mark":"line"},{"transform":[{"filter":"datum.k=='none'"}],"mark":{"type":"point","opacity":1},"encoding":{"shape":{"field":"k","type":"nominal","scale":{"domain":["Eo","Ev","Ep"],"range":["square","stroke","stroke"]},"legend":{"title":null,"orient":"none","legendX":82,"legendY":3,"labelExpr":"datum.label=='Eo'?'Eo*':datum.label","encode":{"symbols":{"update":{"stroke":{"signal":"datum.value=='Eo'?'#999999':datum.value=='Ev'?'#666666':'#111111'"},"strokeDash":{"signal":"datum.value=='Ep'?[1.5,2]:[1,0]"},"fill":{"value":"#ffffff"},"opacity":{"value":1}}}}}}}}]},
{"data":{"name":"Rajasthan"},"title":"Rajasthan","transform":[{"fold":["Eo","Ev","Ep"],"as":["k","v"]}],"encoding":{"x":{"field":"yr","type":"ordinal","axis":null},"y":{"field":"v","type":"quantitative","scale":{"domain":[0,400],"nice":false},"axis":{"values":[0,80,160,240,320,400],"title":null}},"stroke":{"field":"k","type":"nominal","scale":{"domain":["Eo","Ev","Ep"],"range":["#999999","#666666","#111111"]},"legend":null},"strokeDash":{"field":"k","type":"nominal","scale":{"domain":["Eo","Ev","Ep"],"range":[[1,0],[1,0],[1.5,2]]},"legend":null}},"layer":[{"transform":[{"filter":"datum.k=='Eo'"}],"mark":"bar"},{"transform":[{"filter":"datum.k!='Eo'"}],"mark":"line"},{"transform":[{"filter":"datum.k=='none'"}],"mark":{"type":"point","opacity":1},"encoding":{"shape":{"field":"k","type":"nominal","scale":{"domain":["Eo","Ev","Ep"],"range":["square","stroke","stroke"]},"legend":{"title":null,"encode":{"symbols":{"update":{"stroke":{"signal":"datum.value=='Eo'?'#999999':datum.value=='Ev'?'#666666':'#111111'"},"strokeDash":{"signal":"datum.value=='Ep'?[1.5,2]:[1,0]"},"fill":{"value":"#ffffff"},"opacity":{"value":1}}}}}}}}]},
{"data":{"name":"Sikkim"},"title":"Sikkim","transform":[{"fold":["Eo","Ev","Ep"],"as":["k","v"]}],"encoding":{"x":{"field":"yr","type":"ordinal","axis":null},"y":{"field":"v","type":"quantitative","scale":{"domain":[0,80],"nice":false},"axis":{"values":[0,20,40,60,80],"title":null}},"stroke":{"field":"k","type":"nominal","scale":{"domain":["Eo","Ev","Ep"],"range":["#999999","#666666","#111111"]},"legend":null},"strokeDash":{"field":"k","type":"nominal","scale":{"domain":["Eo","Ev","Ep"],"range":[[1,0],[1,0],[1.5,2]]},"legend":null}},"layer":[{"transform":[{"filter":"datum.k=='Eo'"}],"mark":"bar"},{"transform":[{"filter":"datum.k!='Eo'"}],"mark":"line"},{"transform":[{"filter":"datum.k=='none'"}],"mark":{"type":"point","opacity":1},"encoding":{"shape":{"field":"k","type":"nominal","scale":{"domain":["Eo","Ev","Ep"],"range":["square","stroke","stroke"]},"legend":{"title":null,"orient":"none","legendX":68,"legendY":3,"encode":{"symbols":{"update":{"stroke":{"signal":"datum.value=='Eo'?'#999999':datum.value=='Ev'?'#666666':'#111111'"},"strokeDash":{"signal":"datum.value=='Ep'?[1.5,2]:[1,0]"},"fill":{"value":"#ffffff"},"opacity":{"value":1}}}}}}}}]},
{"data":{"name":"Tamilnadu"},"title":"Tamilnadu","transform":[{"fold":["Eo","Ev","Ep"],"as":["k","v"]}],"encoding":{"x":{"field":"yr","type":"ordinal","axis":null},"y":{"field":"v","type":"quantitative","scale":{"domain":[0,225],"nice":false},"axis":{"values":[0,75,150,225],"title":null}},"stroke":{"field":"k","type":"nominal","scale":{"domain":["Eo","Ev","Ep"],"range":["#999999","#666666","#111111"]},"legend":null},"strokeDash":{"field":"k","type":"nominal","scale":{"domain":["Eo","Ev","Ep"],"range":[[1,0],[1,0],[1.5,2]]},"legend":null}},"layer":[{"transform":[{"filter":"datum.k=='Eo'"}],"mark":"bar"},{"transform":[{"filter":"datum.k!='Eo'"}],"mark":"line"},{"transform":[{"filter":"datum.k=='none'"}],"mark":{"type":"point","opacity":1},"encoding":{"shape":{"field":"k","type":"nominal","scale":{"domain":["Eo","Ev","Ep"],"range":["square","stroke","stroke"]},"legend":{"title":null,"encode":{"symbols":{"update":{"stroke":{"signal":"datum.value=='Eo'?'#999999':datum.value=='Ev'?'#666666':'#111111'"},"strokeDash":{"signal":"datum.value=='Ep'?[1.5,2]:[1,0]"},"fill":{"value":"#ffffff"},"opacity":{"value":1}}}}}}}}]},
{"data":{"name":"Tripura"},"title":"Tripura","transform":[{"fold":["Eo","Ev","Ep"],"as":["k","v"]}],"encoding":{"x":{"field":"yr","type":"ordinal","title":"Years"},"y":{"field":"v","type":"quantitative","scale":{"domain":[0,200],"nice":false},"axis":{"values":[0,50,100,150,200],"title":"Epidemiology"}},"stroke":{"field":"k","type":"nominal","scale":{"domain":["Eo","Ev","Ep"],"range":["#999999","#666666","#111111"]},"legend":null},"strokeDash":{"field":"k","type":"nominal","scale":{"domain":["Eo","Ev","Ep"],"range":[[1,0],[1,0],[1.5,2]]},"legend":null}},"layer":[{"transform":[{"filter":"datum.k=='Eo'"}],"mark":"bar"},{"transform":[{"filter":"datum.k!='Eo'"}],"mark":"line"},{"transform":[{"filter":"datum.k=='none'"}],"mark":{"type":"point","opacity":1},"encoding":{"shape":{"field":"k","type":"nominal","scale":{"domain":["Eo","Ev","Ep"],"range":["square","stroke","stroke"]},"legend":{"title":null,"orient":"none","legendX":43,"legendY":3,"encode":{"symbols":{"update":{"stroke":{"signal":"datum.value=='Eo'?'#999999':datum.value=='Ev'?'#666666':'#111111'"},"strokeDash":{"signal":"datum.value=='Ep'?[1.5,2]:[1,0]"},"fill":{"value":"#ffffff"},"opacity":{"value":1}}}}}}}}]},
{"data":{"name":"Uttar Pradesh"},"title":"Uttar Pradesh","transform":[{"fold":["Eo","Ev","Ep"],"as":["k","v"]}],"encoding":{"x":{"field":"yr","type":"ordinal","title":"Years"},"y":{"field":"v","type":"quantitative","scale":{"domain":[0,450],"nice":false},"axis":{"values":[0,150,300,450],"title":null}},"stroke":{"field":"k","type":"nominal","scale":{"domain":["Eo","Ev","Ep"],"range":["#999999","#666666","#111111"]},"legend":null},"strokeDash":{"field":"k","type":"nominal","scale":{"domain":["Eo","Ev","Ep"],"range":[[1,0],[1,0],[1.5,2]]},"legend":null}},"layer":[{"transform":[{"filter":"datum.k=='Eo'"}],"mark":"bar"},{"transform":[{"filter":"datum.k!='Eo'"}],"mark":"line"},{"transform":[{"filter":"datum.k=='none'"}],"mark":{"type":"point","opacity":1},"encoding":{"shape":{"field":"k","type":"nominal","scale":{"domain":["Eo","Ev","Ep"],"range":["square","stroke","stroke"]},"legend":{"title":null,"encode":{"symbols":{"update":{"stroke":{"signal":"datum.value=='Eo'?'#999999':datum.value=='Ev'?'#666666':'#111111'"},"strokeDash":{"signal":"datum.value=='Ep'?[1.5,2]:[1,0]"},"fill":{"value":"#ffffff"},"opacity":{"value":1}}}}}}}}]},
{"data":{"name":"Uttar Khand"},"title":"Uttar Khand","transform":[{"fold":["Eo","Ev","Ep"],"as":["k","v"]}],"encoding":{"x":{"field":"yr","type":"ordinal","title":"Years"},"y":{"field":"v","type":"quantitative","scale":{"domain":[0,100],"nice":false},"axis":{"values":[0,25,50,75,100],"title":null}},"stroke":{"field":"k","type":"nominal","scale":{"domain":["Eo","Ev","Ep"],"range":["#999999","#666666","#111111"]},"legend":null},"strokeDash":{"field":"k","type":"nominal","scale":{"domain":["Eo","Ev","Ep"],"range":[[1,0],[1,0],[1.5,2]]},"legend":null}},"layer":[{"transform":[{"filter":"datum.k=='Eo'"}],"mark":"bar"},{"transform":[{"filter":"datum.k!='Eo'"}],"mark":"line"},{"transform":[{"filter":"datum.k=='none'"}],"mark":{"type":"point","opacity":1},"encoding":{"shape":{"field":"k","type":"nominal","scale":{"domain":["Eo","Ev","Ep"],"range":["square","stroke","stroke"]},"legend":{"title":null,"encode":{"symbols":{"update":{"stroke":{"signal":"datum.value=='Eo'?'#999999':datum.value=='Ev'?'#666666':'#111111'"},"strokeDash":{"signal":"datum.value=='Ep'?[1.5,2]:[1,0]"},"fill":{"value":"#ffffff"},"opacity":{"value":1}}}}}}}}]},
{"data":{"name":"West Bengal"},"title":"West Bengal","transform":[{"fold":["Eo","Ev","Ep"],"as":["k","v"]}],"encoding":{"x":{"field":"yr","type":"ordinal","title":"Years"},"y":{"field":"v","type":"quantitative","scale":{"domain":[0,450],"nice":false},"axis":{"values":[0,150,300,450],"title":null}},"stroke":{"field":"k","type":"nominal","scale":{"domain":["Eo","Ev","Ep"],"range":["#999999","#666666","#111111"]},"legend":null},"strokeDash":{"field":"k","type":"nominal","scale":{"domain":["Eo","Ev","Ep"],"range":[[1,0],[1,0],[1.5,2]]},"legend":null}},"layer":[{"transform":[{"filter":"datum.k=='Eo'"}],"mark":"bar"},{"transform":[{"filter":"datum.k!='Eo'"}],"mark":"line"},{"transform":[{"filter":"datum.k=='none'"}],"mark":{"type":"point","opacity":1},"encoding":{"shape":{"field":"k","type":"nominal","scale":{"domain":["Eo","Ev","Ep"],"range":["square","stroke","stroke"]},"legend":{"title":null,"orient":"none","legendX":62,"legendY":3,"encode":{"symbols":{"update":{"stroke":{"signal":"datum.value=='Eo'?'#999999':datum.value=='Ev'?'#666666':'#111111'"},"strokeDash":{"signal":"datum.value=='Ep'?[1.5,2]:[1,0]"},"fill":{"value":"#ffffff"},"opacity":{"value":1}}}}}}}}]}
],
"resolve":{"scale":{"x":"independent","y":"independent"},"legend":{"shape":"independent"}},
"config":{
"view":{"continuousWidth":133,"continuousHeight":66,"discreteWidth":133,"discreteHeight":66,"stroke":"#a8a8a8","strokeWidth":1},
"scale":{"bandPaddingInner":0.5,"bandPaddingOuter":0.6},
"bar":{"fill":"#ffffff","strokeWidth":1},
"line":{"strokeWidth":1.3},
"title":{"anchor":"start","frame":"group","offset":-16,"dx":6,"fontSize":10,"fontWeight":"bold","font":"Liberation Sans","color":"#111111"},
"axisY":{"labelFontSize":9,"labelFontWeight":"bold","labelFont":"Liberation Sans","labelColor":"#111111","grid":false,"domain":false,"tickSize":3,"tickColor":"#888888","labelPadding":2,"titleFontSize":12,"titleFontWeight":"normal","titleFont":"Liberation Sans","titleColor":"#333333","titleX":-26},
"axisX":{"labelFontSize":7,"labelFontWeight":"bold","labelFont":"Liberation Sans Narrow, Liberation Sans","labelColor":"#222222","labelAngle":-60,"ticks":false,"domain":false,"titleFontSize":8,"titleFontWeight":"bold","titleFont":"Liberation Sans Narrow, Liberation Sans","titlePadding":2,"labelPadding":3},
"legend":{"orient":"top-right","offset":3,"padding":0,"labelFontSize":9,"labelFontWeight":"bold","labelFont":"Liberation Sans","labelColor":"#111111","symbolSize":45,"symbolStrokeWidth":1.2,"rowPadding":-1,"labelOffset":3}
}
}
